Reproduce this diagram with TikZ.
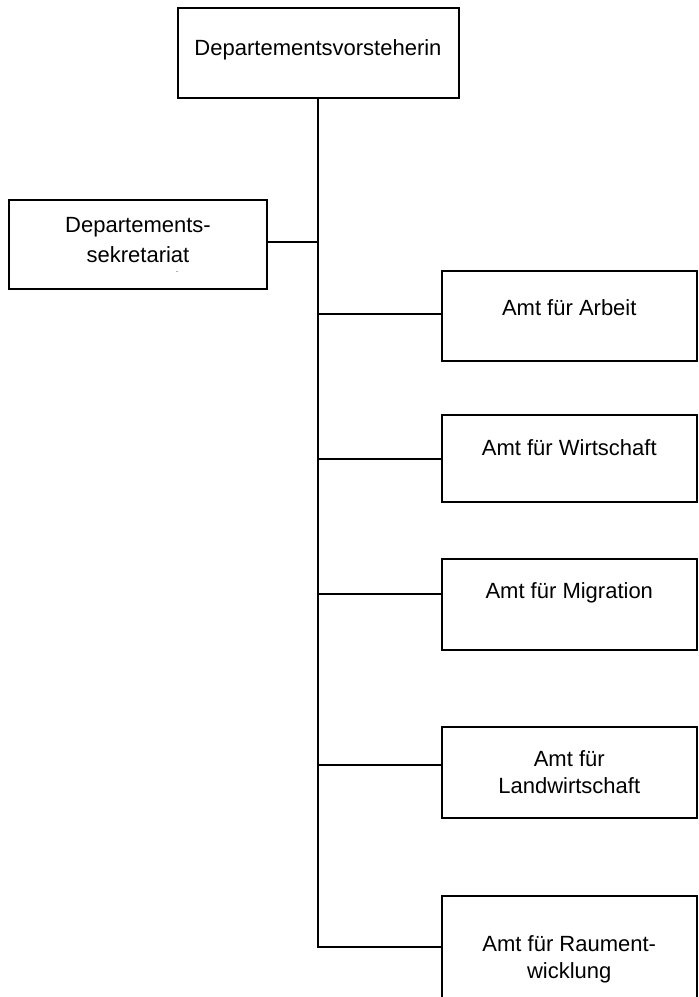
\documentclass[tikz,border=0pt]{standalone}
\usepackage{fontspec}
\setmainfont{Liberation Sans}
\begin{document}
\begin{tikzpicture}[x=1pt,y=-1pt,
  box/.style={draw, line width=2pt, fill=white, inner sep=0pt, outer sep=0pt},
  lbl/.style={font=\fontsize{22}{27}\selectfont, align=center, anchor=base, inner sep=0pt},
  conn/.style={line width=2pt}]
\useasboundingbox (0,0) rectangle (699,997);
\clip (0,0) rectangle (699,997);
% boxes
\node[box, minimum width=281pt, minimum height=90pt] (top) at (318,53) {};
\node[box, minimum width=258pt, minimum height=89pt] (sekr) at (138,244.5) {};
\node[box, minimum width=255.5pt, minimum height=90pt] (arbeit) at (569.25,316) {};
\node[box, minimum width=255.5pt, minimum height=87pt] (wirt) at (569.25,458.5) {};
\node[box, minimum width=255.5pt, minimum height=91pt] (migr) at (569.25,604.5) {};
\node[box, minimum width=255.5pt, minimum height=91pt] (land) at (569.25,772.5) {};
\node[box, minimum width=255.5pt, minimum height=124pt] (raum) at (569.25,958) {};
% labels (anchor base = baseline of last line)
\node[lbl] (topT) at (318,55) {Departementsvorsteherin};
\node[lbl, font=\fontsize{22}{30}\selectfont] (sekrT) at (138,262) {Departements-\\sekretariat};
\node[lbl] (arbeitT) at (569.25,315) {Amt für Arbeit};
\node[lbl] (wirtT) at (569.25,455) {Amt für Wirtschaft};
\node[lbl] (migrT) at (569.25,598) {Amt für Migration};
\node[lbl] (landT) at (569.25,793) {Amt für\\Landwirtschaft};
\node[lbl] (raumT) at (569.25,978) {Amt für Raument-\\wicklung};
% connectors
\coordinate (tend) at (318,947);
\coordinate (bs) at (318,242);
\coordinate (b1) at (318,313.5);
\coordinate (b2) at (318,459);
\coordinate (b3) at (318,593.5);
\coordinate (b4) at (318,765);
\draw[conn] (top.south) -- (tend) -- (tend -| raum.west);
\draw[conn] (bs) -- (bs -| sekr.east);
\draw[conn] (b1) -- (b1 -| arbeit.west);
\draw[conn] (b2) -- (b2 -| wirt.west);
\draw[conn] (b3) -- (b3 -| migr.west);
\draw[conn] (b4) -- (b4 -| land.west);
% stray mark
\draw[gray!60, line width=1pt] (175.5,271) -- (177.5,271);
\end{tikzpicture}
\end{document}
